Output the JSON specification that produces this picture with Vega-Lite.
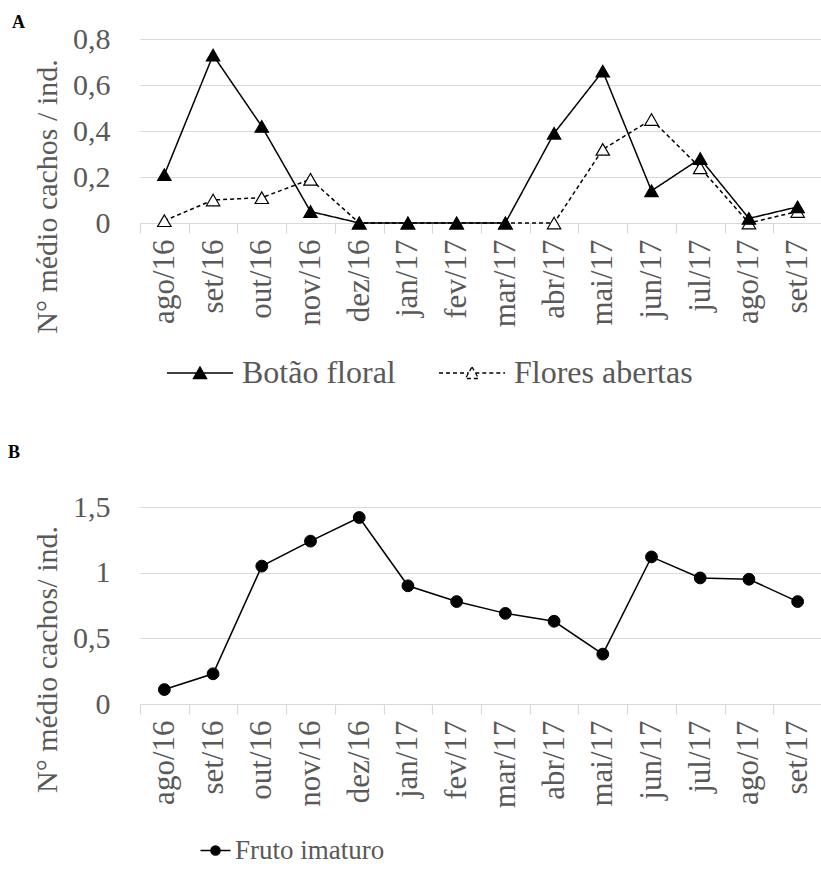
{
  "$schema": "https://vega.github.io/schema/vega-lite/v6.json",
  "padding": {"left": 8, "top": 14, "right": 0, "bottom": 0},
  "background": "white",
  "config": {
    "view": {"stroke": null},
    "font": "Liberation Serif, Times New Roman, serif",
    "axisX": {
      "domainColor": "#d9d9d9", "domainWidth": 1.2,
      "tickColor": "#d9d9d9", "tickSize": 10, "tickWidth": 1.2, "tickBand": "extent",
      "labelAngle": -90, "labelFont": "Liberation Serif, Times New Roman, serif", "labelFontSize": 31, "labelColor": "#595959",
      "labelPadding": 6, "grid": false, "title": null
    },
    "axisY": {
      "domain": false, "ticks": false, "grid": true, "gridColor": "#d9d9d9", "gridWidth": 1.2,
      "labelFont": "Liberation Serif, Times New Roman, serif", "labelFontSize": 30, "labelColor": "#595959", "labelPadding": 30,
      "titleFont": "Liberation Serif, Times New Roman, serif", "titleFontSize": 30, "titleColor": "#595959", "titleFontWeight": "normal",
      "titleAngle": 270, "titleAlign": "center", "titleBaseline": "alphabetic",
      "labelExpr": "replace(format(datum.value, '~g'), '.', ',')"
    },
    "legend": {
      "labelFont": "Liberation Serif, Times New Roman, serif", "labelColor": "#595959", "title": null, "labelLimit": 400
    }
  },
  "datasets": {
    "a": [
      {"mes": "ago/16", "serie": "Flores abertas", "valor": 0.01},
      {"mes": "set/16", "serie": "Flores abertas", "valor": 0.10},
      {"mes": "out/16", "serie": "Flores abertas", "valor": 0.11},
      {"mes": "nov/16", "serie": "Flores abertas", "valor": 0.19},
      {"mes": "dez/16", "serie": "Flores abertas", "valor": 0},
      {"mes": "jan/17", "serie": "Flores abertas", "valor": 0},
      {"mes": "fev/17", "serie": "Flores abertas", "valor": 0},
      {"mes": "mar/17", "serie": "Flores abertas", "valor": 0},
      {"mes": "abr/17", "serie": "Flores abertas", "valor": 0},
      {"mes": "mai/17", "serie": "Flores abertas", "valor": 0.32},
      {"mes": "jun/17", "serie": "Flores abertas", "valor": 0.45},
      {"mes": "jul/17", "serie": "Flores abertas", "valor": 0.24},
      {"mes": "ago/17", "serie": "Flores abertas", "valor": 0},
      {"mes": "set/17", "serie": "Flores abertas", "valor": 0.05},
      {"mes": "ago/16", "serie": "Botão floral", "valor": 0.21},
      {"mes": "set/16", "serie": "Botão floral", "valor": 0.73},
      {"mes": "out/16", "serie": "Botão floral", "valor": 0.42},
      {"mes": "nov/16", "serie": "Botão floral", "valor": 0.05},
      {"mes": "dez/16", "serie": "Botão floral", "valor": 0},
      {"mes": "jan/17", "serie": "Botão floral", "valor": 0},
      {"mes": "fev/17", "serie": "Botão floral", "valor": 0},
      {"mes": "mar/17", "serie": "Botão floral", "valor": 0},
      {"mes": "abr/17", "serie": "Botão floral", "valor": 0.39},
      {"mes": "mai/17", "serie": "Botão floral", "valor": 0.66},
      {"mes": "jun/17", "serie": "Botão floral", "valor": 0.14},
      {"mes": "jul/17", "serie": "Botão floral", "valor": 0.28},
      {"mes": "ago/17", "serie": "Botão floral", "valor": 0.02},
      {"mes": "set/17", "serie": "Botão floral", "valor": 0.07}
    ],
    "b": [
      {"mes": "ago/16", "serie": "Fruto imaturo", "valor": 0.11},
      {"mes": "set/16", "serie": "Fruto imaturo", "valor": 0.23},
      {"mes": "out/16", "serie": "Fruto imaturo", "valor": 1.05},
      {"mes": "nov/16", "serie": "Fruto imaturo", "valor": 1.24},
      {"mes": "dez/16", "serie": "Fruto imaturo", "valor": 1.42},
      {"mes": "jan/17", "serie": "Fruto imaturo", "valor": 0.90},
      {"mes": "fev/17", "serie": "Fruto imaturo", "valor": 0.78},
      {"mes": "mar/17", "serie": "Fruto imaturo", "valor": 0.69},
      {"mes": "abr/17", "serie": "Fruto imaturo", "valor": 0.63},
      {"mes": "mai/17", "serie": "Fruto imaturo", "valor": 0.38},
      {"mes": "jun/17", "serie": "Fruto imaturo", "valor": 1.12},
      {"mes": "jul/17", "serie": "Fruto imaturo", "valor": 0.96},
      {"mes": "ago/17", "serie": "Fruto imaturo", "valor": 0.95},
      {"mes": "set/17", "serie": "Fruto imaturo", "valor": 0.78}
    ]
  },
  "vconcat": [
    {
      "width": 682,
      "height": 184,
      "title": {"text": "A", "anchor": "start", "frame": "bounds", "font": "Liberation Serif, Times New Roman, serif", "fontSize": 18, "fontWeight": "bold", "color": "black", "offset": -8, "dx": -20},
      "data": {"name": "a"},
      "encoding": {
        "x": {"field": "mes", "type": "ordinal",
              "sort": ["ago/16","set/16","out/16","nov/16","dez/16","jan/17","fev/17","mar/17","abr/17","mai/17","jun/17","jul/17","ago/17","set/17"],
              "scale": {"type": "band", "paddingInner": 0, "paddingOuter": 0}},
        "y": {"field": "valor", "type": "quantitative",
              "scale": {"domain": [0, 0.8], "nice": false},
              "axis": {"values": [0, 0.2, 0.4, 0.6, 0.8], "title": "N° médio cachos / ind.", "titleX": -84, "titleY": 157}}
      },
      "layer": [
        {
          "mark": {"type": "line", "color": "black", "strokeWidth": 1.5},
          "encoding": {
            "strokeDash": {"field": "serie", "type": "nominal",
              "scale": {"domain": ["Botão floral", "Flores abertas"], "range": [[1, 0], [4, 3]]},
              "legend": {
                "orient": "none", "legendX": 22, "legendY": 318, "direction": "horizontal",
                "symbolType": "M-1,0H1.7M2.3,0H5M2,-0.55L2.6,0.5L1.4,0.5Z",
                "symbolSize": 484, "symbolStrokeColor": "black", "symbolStrokeWidth": 1.5,
                "labelFontSize": 32, "labelOffset": 48, "columnPadding": 38,
                "encode": {"symbols": {"update": {
                  "fill": {"signal": "datum.value === 'Botão floral' ? 'black' : 'white'"},
                  "stroke": {"value": "black"},
                  "strokeWidth": {"value": 1.3},
                  "strokeDash": {"signal": "datum.value === 'Botão floral' ? [1, 0] : [3, 2]"},
                  "opacity": {"value": 1}
                }}}
              }
            }
          }
        },
        {
          "mark": {"type": "point", "shape": "triangle-up", "size": 180, "stroke": "black", "strokeWidth": 1.2, "opacity": 1},
          "encoding": {
            "fill": {"field": "serie", "type": "nominal",
              "scale": {"domain": ["Botão floral", "Flores abertas"], "range": ["black", "white"]},
              "legend": null}
          }
        }
      ]
    },
    {
      "width": 682,
      "height": 197,
      "title": {"text": "B", "anchor": "start", "frame": "bounds", "font": "Liberation Serif, Times New Roman, serif", "fontSize": 18, "fontWeight": "bold", "color": "black", "offset": 30, "dx": -24},
      "data": {"name": "b"},
      "encoding": {
        "x": {"field": "mes", "type": "ordinal",
              "sort": ["ago/16","set/16","out/16","nov/16","dez/16","jan/17","fev/17","mar/17","abr/17","mai/17","jun/17","jul/17","ago/17","set/17"],
              "scale": {"type": "band", "paddingInner": 0, "paddingOuter": 0}},
        "y": {"field": "valor", "type": "quantitative",
              "scale": {"domain": [0, 1.5], "nice": false},
              "axis": {"values": [0, 0.5, 1, 1.5], "title": "N° médio cachos/ ind.", "titleX": -84, "titleY": 152}}
      },
      "layer": [
        {
          "mark": {"type": "line", "color": "black", "strokeWidth": 1.5},
          "encoding": {
            "stroke": {"field": "serie", "type": "nominal",
              "scale": {"domain": ["Fruto imaturo"], "range": ["black"]},
              "legend": {
                "orient": "none", "legendX": 52, "legendY": 330, "direction": "horizontal",
                "symbolType": "M-1,0H5M2.9,0A0.9,0.9,0,1,1,1.1,0A0.9,0.9,0,1,1,2.9,0Z",
                "symbolSize": 100, "symbolStrokeColor": "black", "symbolStrokeWidth": 1.5,
                "symbolFillColor": "black",
                "labelFontSize": 27, "labelOffset": 16,
                "encode": {"symbols": {"update": {"fill": {"value": "black"}, "stroke": {"value": "black"}, "opacity": {"value": 1}}}}
              }
            }
          }
        },
        {
          "mark": {"type": "point", "shape": "circle", "size": 140, "fill": "black", "stroke": "black", "strokeWidth": 1, "opacity": 1}
        }
      ]
    }
  ],
  "spacing": 55,
  "resolve": {"scale": {"x": "independent", "y": "independent", "stroke": "independent", "strokeDash": "independent", "fill": "independent"}, "legend": {"stroke": "independent", "strokeDash": "independent"}}
}
